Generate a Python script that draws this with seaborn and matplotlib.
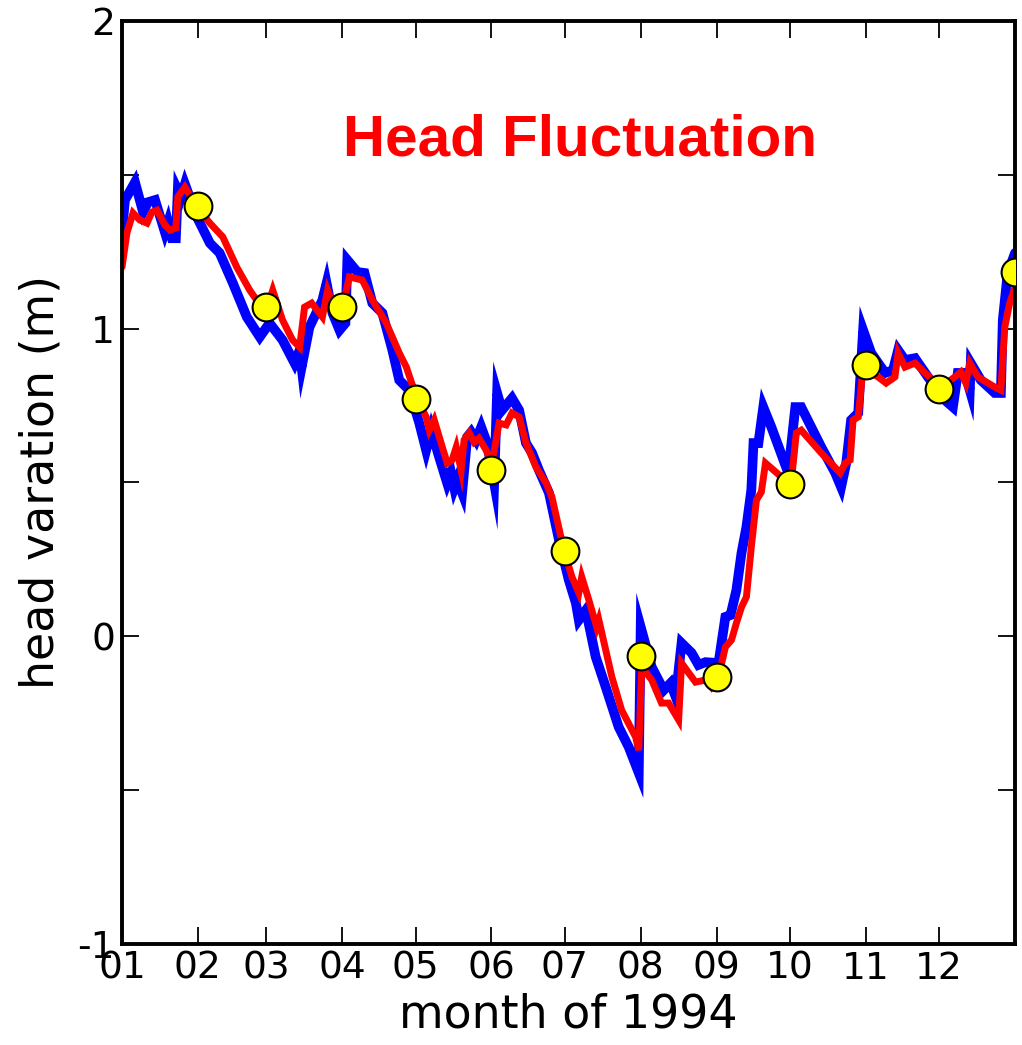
import numpy as np
import matplotlib
matplotlib.use('Agg')  # no display

import matplotlib.pyplot as plt
import seaborn as sns
import pandas as pd

# day offset from 1994-01-01 and head variation (m), blue series
blue_days = [0, 1.2, 5.3, 8.6, 10.6, 13.5, 17.5, 18.8, 20.4, 22.0, 22.8, 24.1, 25.7,
             30.6, 35.9, 39.9, 45.3, 51.0, 56.3, 60.3, 65.6, 70.5, 72.6, 73.4, 76.6,
             81.9, 83.6, 86.0, 88.9, 91.3, 92.1, 96.2, 99.1, 102.3, 106.4, 110.5, 113.3,
             117.4, 121.5, 124.3, 126.4, 129.6, 132.9, 134.5, 135.8, 137.0, 139.0, 141.1,
             142.7, 144.7, 146.8, 149.2, 152.1, 153.3, 155.3, 159.4, 162.3, 165.1, 167.6,
             170.4, 174.5, 178.6, 182.6, 185.5, 186.7, 189.6, 193.6, 197.7, 203.0, 207.1,
             211.2, 212.0, 216.5, 221.4, 224.2, 226.3, 228.7, 232.8, 235.6, 238.5, 243.8,
             246.6, 248.7, 251.1, 253.2, 255.2, 257.2, 258.1, 260.1, 262.1, 265.4, 272.3,
             275.2, 277.6, 285.8, 291.5, 293.9, 296.0, 298.0, 300.9, 302.9, 306.2, 311.9,
             315.1, 317.2, 320.0, 324.1, 329.4, 336.3, 339.6, 341.6, 344.5, 346.5, 346.9,
             351.0, 356.7, 359.2, 360.0, 362.0, 365.0]
blue_head = [1.314, 1.418, 1.476, 1.379, 1.411, 1.418, 1.314, 1.346, 1.294, 1.294, 1.450,
             1.428, 1.470, 1.363, 1.278, 1.246, 1.148, 1.038, 0.973, 1.018, 0.963, 0.888,
             0.930, 0.875, 1.005, 1.093, 1.148, 1.051, 0.995, 1.018, 1.223, 1.184, 1.181,
             1.083, 1.051, 0.930, 0.833, 0.800, 0.693, 0.605, 0.670, 0.583, 0.498, 0.531,
             0.482, 0.508, 0.466, 0.648, 0.664, 0.638, 0.680, 0.628, 0.498, 0.791, 0.735,
             0.774, 0.735, 0.628, 0.596, 0.540, 0.466, 0.313, 0.183, 0.108, 0.053, 0.085,
             -0.067, -0.165, -0.295, -0.360, -0.444, 0.030, -0.100, -0.175, -0.152, -0.197,
             -0.022, -0.054, -0.093, -0.084, -0.087, 0.063, 0.069, 0.150, 0.271, 0.355,
             0.475, 0.628, 0.628, 0.745, 0.680, 0.531, 0.745, 0.745, 0.615, 0.531, 0.485,
             0.563, 0.703, 0.726, 0.995, 0.921, 0.856, 0.865, 0.930, 0.898, 0.904, 0.843,
             0.768, 0.745, 0.856, 0.856, 0.800, 0.888, 0.833, 0.791, 0.791, 1.028, 1.181,
             1.246]

# red series
red_days = [0, 2.0, 4.5, 7.3, 10.2, 12.2, 14.3, 17.5, 19.6, 22.0, 22.8, 25.7, 30.6,
            35.9, 41.2, 46.9, 52.2, 55.0, 60.3, 61.6, 65.6, 69.7, 72.6, 74.6, 77.5,
            81.9, 84.0, 87.6, 90.1, 92.9, 98.2, 102.3, 108.0, 113.3, 116.2, 120.3, 124.3,
            125.6, 127.6, 130.9, 132.9, 134.9, 136.6, 138.6, 139.8, 141.9, 143.9, 145.9,
            148.8, 151.2, 154.1, 157.0, 159.4, 162.3, 165.1, 169.2, 173.3, 175.7, 180.6,
            183.9, 186.7, 187.9, 190.8, 194.0, 194.9, 200.2, 204.2, 209.9, 211.2, 212.4,
            216.5, 220.5, 223.4, 227.5, 228.7, 231.6, 234.4, 238.5, 240.9, 243.8, 246.6,
            249.1, 251.1, 253.2, 255.2, 257.2, 259.3, 261.3, 263.0, 269.5, 273.5, 275.6,
            277.6, 285.8, 293.5, 295.6, 297.6, 298.8, 300.9, 302.9, 309.0, 312.3, 315.9,
            317.2, 320.0, 324.1, 328.2, 334.7, 340.4, 342.8, 344.9, 346.5, 349.8, 356.7,
            359.2, 360.8, 362.8, 365.0]
red_head = [1.200, 1.311, 1.376, 1.353, 1.343, 1.379, 1.385, 1.337, 1.320, 1.327, 1.428,
            1.460, 1.395, 1.343, 1.298, 1.200, 1.125, 1.093, 1.093, 1.125, 1.028, 0.963,
            0.940, 1.070, 1.083, 1.038, 1.125, 1.051, 1.070, 1.168, 1.158, 1.093, 1.018,
            0.921, 0.875, 0.778, 0.713, 0.670, 0.703, 0.615, 0.563, 0.573, 0.615, 0.540,
            0.638, 0.661, 0.631, 0.644, 0.605, 0.563, 0.693, 0.687, 0.726, 0.713, 0.628,
            0.550, 0.498, 0.453, 0.280, 0.193, 0.141, 0.193, 0.118, 0.030, 0.053, -0.132,
            -0.240, -0.327, -0.370, -0.100, -0.142, -0.217, -0.217, -0.272, -0.087, -0.119,
            -0.149, -0.142, -0.165, -0.132, -0.035, -0.012, 0.043, 0.095, 0.128, 0.290,
            0.443, 0.469, 0.563, 0.518, 0.498, 0.661, 0.670, 0.596, 0.531, 0.563, 0.573,
            0.703, 0.713, 0.875, 0.843, 0.823, 0.843, 0.921, 0.875, 0.888, 0.856, 0.810,
            0.843, 0.859, 0.823, 0.888, 0.843, 0.810, 0.800, 1.005, 1.083, 1.135]

# monthly observations (yellow dots)
obs_dates = ['1994-02-01', '1994-03-01', '1994-04-01', '1994-05-01', '1994-06-01',
             '1994-07-01', '1994-08-01', '1994-09-01', '1994-10-01', '1994-11-01',
             '1994-12-01', '1995-01-01']
obs_head = [1.398, 1.070, 1.070, 0.771, 0.540, 0.277, -0.064, -0.132, 0.495, 0.882,
            0.804, 1.184]

month_labels = ['01', '02', '03', '04', '05', '06', '07', '08', '09', '10', '11', '12']
y_ticks = [-1, -0.5, 0, 0.5, 1, 1.5, 2]
y_labels = ['-1', '', '0', '', '1', '', '2']

start = pd.Timestamp('1994-01-01')
blue_df = pd.DataFrame({'date': start + pd.to_timedelta(blue_days, unit='D'), 'head': blue_head})
red_df = pd.DataFrame({'date': start + pd.to_timedelta(red_days, unit='D'), 'head': red_head})
obs_df = pd.DataFrame({'date': pd.to_datetime(obs_dates), 'head': obs_head})

sns.set_style('ticks')
plt.rcParams['font.family'] = ['DejaVu Sans']
plt.rcParams['text.color'] = 'black'
plt.rcParams['axes.labelcolor'] = 'black'

fig = plt.figure(figsize=(10.22, 10.45), dpi=100)
ax = fig.add_axes([0.1194, 0.0967, 0.8738, 0.8832])

sns.lineplot(data=blue_df, x='date', y='head', color='#0000FF', lw=7,
             estimator=None, sort=False, ax=ax, solid_joinstyle='miter')
sns.lineplot(data=red_df, x='date', y='head', color='#FF0000', lw=5,
             estimator=None, sort=False, ax=ax, solid_joinstyle='miter')
sns.scatterplot(data=obs_df, x='date', y='head', color='#FFFF00', s=400,
                edgecolor='black', linewidth=1.5, zorder=5, ax=ax, clip_on=True)

ax.set_xlim(pd.Timestamp('1994-01-01'), pd.Timestamp('1995-01-01'))
ax.set_ylim(-1, 2)
ax.set_xticks(pd.date_range('1994-01-01', '1994-12-01', freq='MS'))
ax.set_xticklabels(month_labels)
ax.set_yticks(y_ticks)
ax.set_yticklabels(y_labels)

ax.tick_params(axis='both', direction='in', length=12, width=1.3, labelsize=27,
               top=True, right=True, pad=5, colors='black')
for sp in ax.spines.values():
    sp.set_linewidth(2.8)
    sp.set_color('black')

ax.set_xlabel('month of 1994', fontsize=33, labelpad=4, color='black')
ax.set_ylabel('head varation (m)', fontsize=33, color='black')
ax.yaxis.set_label_coords(-0.066, 0.5)

ax.text(0.513, 0.854, 'Head Fluctuation', transform=ax.transAxes, ha='center',
        va='baseline', color='#FF0000', fontsize=42, fontweight='bold',
        family='Liberation Sans')

fig.savefig('out.png', dpi=100)
